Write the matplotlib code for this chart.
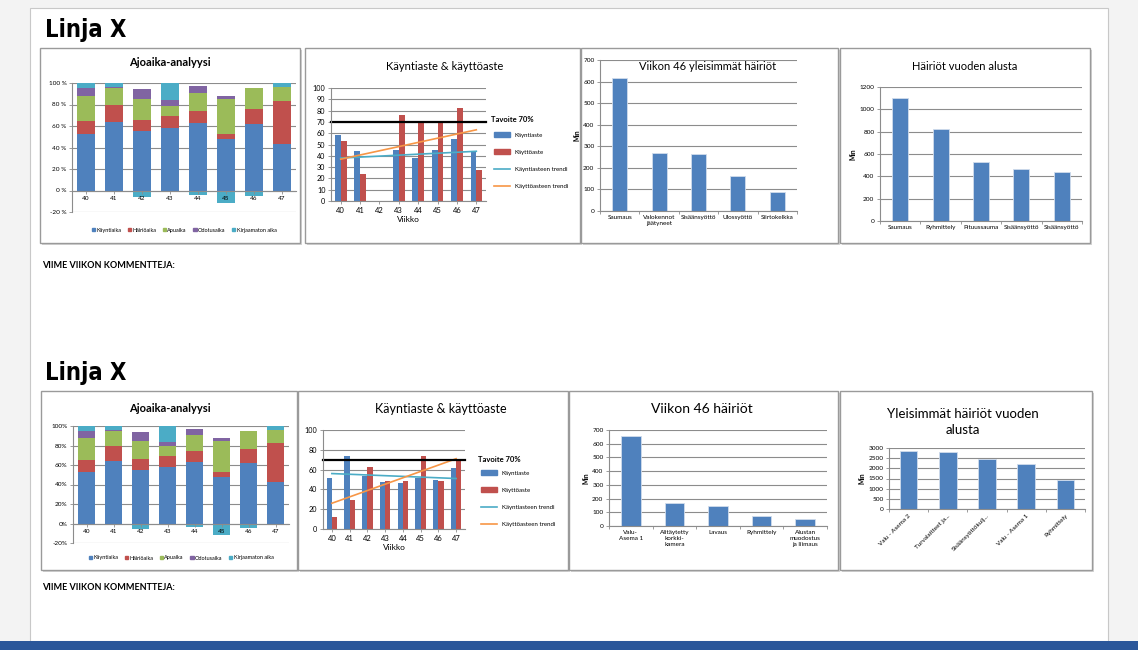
import numpy as np
import matplotlib
matplotlib.use("Agg")
import matplotlib.pyplot as plt
from matplotlib.patches import Rectangle, Patch
from matplotlib.lines import Line2D

plt.rcParams['font.family'] = ['Lato', 'DejaVu Sans']

W, H = 1138, 650

# ---- data ----
weeks = ['40', '41', '42', '43', '44', '45', '46', '47']
ajo_labels = ['Käyntiaika', 'Häiriöaika', 'Apuaika', 'Odotusaika', 'Kirjaamaton aika']
kayntiaika = [53, 64, 55, 58, 63, 48, 62, 43]
hairioaika = [12, 16, 11, 11, 11, 5, 14, 40]
apuaika = [23, 15, 19, 10, 17, 32, 19, 13]
odotusaika = [7, 1, 9, 5, 6, 3, 0, 0]
kirjaamaton = [5, 4, -6, 16, -4, -12, -5, 4]

# Käyntiaste & käyttöaste, top chart
kayntiaste_1 = [58, 44, 0, 45, 38, 45, 55, 43]
kayttoaste_1 = [53, 24, 0, 76, 70, 69, 82, 27]
kaynti_trend_1 = [38, 44]   # start / end
kaytto_trend_1 = [37, 63]
# bottom chart
kayntiaste_2 = [52, 74, 54, 47, 46, 52, 50, 62]
kayttoaste_2 = [12, 29, 63, 48, 48, 74, 48, 71]
kaynti_trend_2 = [56, 51]
kaytto_trend_2 = [26, 71]
tavoite = 70

vk46_cats = ['Saumaus', 'Valokennot\njäätyneet', 'Sisäänsyöttö', 'Ulossyöttö', 'Siirtokelkka']
vk46_vals = [615, 268, 262, 162, 90]

vuosi_cats = ['Saumaus', 'Ryhmittely', 'Pituussauma', 'Sisäänsyöttö', 'Sisäänsyöttö']
vuosi_vals = [1105, 825, 530, 465, 440]

vk46b_cats = ['Valu-\nAsema 1', 'Alitäytetty\nkorkki-\nkamera', 'Lavaus', 'Ryhmittely',
              'Alustan\nmuodostus\nja liimaus']
vk46b_vals = [655, 170, 143, 75, 50]

vuosib_cats = ['Valu - Asema 2', 'Turvalaitteet ja...', 'Sisäänsyöttökulj...',
               'Valu - Asema 1', 'Ryhmittely']
vuosib_vals = [2850, 2780, 2480, 2230, 1450]

BLUE, RED, GREEN, PURPLE, CYAN, ORANGE = '#4f81bd', '#c0504d', '#9bbb59', '#8064a2', '#4bacc6', '#f79646'
GRID = '#8c8c8c'
TICK = 4.6

fig = plt.figure(figsize=(W / 100, H / 100), dpi=100)
fig.patch.set_facecolor('white')


def box(x0, y0, x1, y1):
    return [x0 / W, 1 - y1 / H, (x1 - x0) / W, (y1 - y0) / H]


def frect(x0, y0, x1, y1, **kw):
    r = Rectangle((x0 / W, 1 - y1 / H), (x1 - x0) / W, (y1 - y0) / H,
                  transform=fig.transFigure, **kw)
    fig.add_artist(r)


def ftext(x, y, s, **kw):
    fig.text(x / W, 1 - y / H, s, **kw)


# page background
frect(0, 0, W, H, facecolor='#f3f3f3', edgecolor='none', zorder=-20)
frect(30, 8, 1108, 641, facecolor='white', edgecolor='#c8c8c8', lw=0.8, zorder=-19)
frect(0, 641, W, H, facecolor='#2b579a', edgecolor='none', zorder=5)


def panel(x0, y0, x1, y1):
    frect(x0 + 2, y0 + 2, x1 + 2, y1 + 2, facecolor='#d4d4d4', edgecolor='none', zorder=-6)
    frect(x0, y0, x1, y1, facecolor='white', edgecolor='#9a9a9a', lw=1.0, zorder=-5)


def style(ax, ymin, ymax, step):
    ax.set_facecolor('none')
    ax.set_ylim(ymin, ymax)
    ax.set_yticks(np.arange(ymin, ymax + 1, step))
    ax.yaxis.grid(True, color=GRID, lw=0.8)
    ax.set_axisbelow(True)
    for s in ['top', 'right']:
        ax.spines[s].set_visible(False)
    for s in ['left', 'bottom']:
        ax.spines[s].set_color(GRID)
        ax.spines[s].set_linewidth(0.8)
    ax.tick_params(labelsize=TICK, length=2, width=0.6, color=GRID, pad=2)


def ajoaika(rect, legend_y, pct_fmt):
    ax = fig.add_axes(box(*rect))
    x = np.arange(len(weeks))
    series = [kayntiaika, hairioaika, apuaika, odotusaika]
    cols = [BLUE, RED, GREEN, PURPLE]
    bottom = np.zeros(len(weeks))
    for vals, c, lab in zip(series, cols, ajo_labels):
        ax.bar(x, vals, 0.62, bottom=bottom, color=c, label=lab)
        bottom += np.array(vals)
    kir = np.array(kirjaamaton)
    kbot = np.where(kir >= 0, bottom, 0)
    ax.bar(x, kir, 0.62, bottom=kbot, color=CYAN, label=ajo_labels[4])
    style(ax, -20, 100, 20)
    ax.set_yticklabels([pct_fmt.format(v) for v in range(-20, 101, 20)])
    ax.set_xlim(-0.5, len(weeks) - 0.5)
    ax.spines['bottom'].set_position(('data', 0))
    ax.set_xticks(x)
    ax.set_xticklabels(weeks)
    ax.xaxis.set_zorder(3)
    handles = [Patch(color=c) for c in cols + [CYAN]]
    fig.legend(handles, ajo_labels, loc='center', ncol=5, frameon=False,
               bbox_to_anchor=((rect[0] + rect[2]) / 2 / W, 1 - legend_y / H),
               fontsize=4.0, handlelength=0.6, handleheight=0.6, handletextpad=0.2,
               columnspacing=1.2)
    return ax


def kaynti(rect, blue, red, tb, to, step, label_x, tav_y, leg_y, spacing):
    ax = fig.add_axes(box(*rect))
    x = np.arange(len(weeks))
    ax.bar(x - 0.15, blue, 0.3, color=BLUE)
    ax.bar(x + 0.15, red, 0.3, color=RED)
    ax.plot([0, len(weeks) - 1], tb, color=CYAN, lw=1.2)
    ax.plot([0, len(weeks) - 1], to, color=ORANGE, lw=1.2)
    style(ax, 0, 100, step)
    ax.set_xlim(-0.5, len(weeks) - 0.5)
    ax.set_xticks(x)
    ax.set_xticklabels(weeks, fontsize=5.5)
    ax.tick_params(axis='y', labelsize=5.2)
    ax.set_xlabel('Viikko', fontsize=6, labelpad=2)
    ax.plot([-0.5, len(weeks) - 0.5], [tavoite, tavoite], color='black', lw=1.6, clip_on=False)
    ftext(label_x, tav_y, 'Tavoite 70%', fontsize=5.5, va='center', fontweight='bold')
    handles = [Patch(color=BLUE), Patch(color=RED),
               Line2D([], [], color=CYAN, lw=1.2), Line2D([], [], color=ORANGE, lw=1.2)]
    labels = ['Käyntiaste', 'Käyttöaste', 'Käyntiasteen trendi', 'Käyttöasteen trendi']
    fig.legend(handles, labels, loc='upper left', frameon=False,
               bbox_to_anchor=(label_x / W, 1 - leg_y / H), fontsize=4.4,
               handlelength=2.6, handleheight=0.9, labelspacing=spacing, borderpad=0)
    return ax


def simple_bars(rect, cats, vals, ymax, step, width, rot=0, cat_size=TICK):
    ax = fig.add_axes(box(*rect))
    x = np.arange(len(cats))
    ax.bar(x, vals, width, color=BLUE, edgecolor='#d0dcec', lw=0.6)
    style(ax, 0, ymax, step)
    ax.set_xlim(-0.5, len(cats) - 0.5)
    ax.set_xticks(np.arange(len(cats) + 1) - 0.5, minor=False, labels=[''] * (len(cats) + 1))
    ax.set_xticks(x, minor=True)
    if rot:
        ax.set_xticklabels(cats, minor=True, rotation=rot, ha='right', rotation_mode='anchor',
                           fontsize=cat_size)
    else:
        ax.set_xticklabels(cats, minor=True, fontsize=cat_size)
    ax.tick_params(axis='x', which='minor', length=0, pad=3)
    ax.set_ylabel('Min', fontsize=4.8, fontweight='bold', labelpad=2)
    return ax


# ---------------- top row ----------------
ftext(45, 30, 'Linja X', fontsize=17, fontweight='heavy', fontstretch='condensed',
      family='DejaVu Sans', va='center')
panel(40, 48, 300, 243)
panel(305, 48, 580, 243)
panel(581, 48, 838, 243)
panel(840, 48, 1090, 243)

ftext(170, 63, 'Ajoaika-analyysi', fontsize=8, fontweight='bold', ha='center', va='center')
ajoaika((72, 83, 296, 212), 230, '{} %')

ftext(445, 66, 'Käyntiaste & käyttöaste', fontsize=8, ha='center', va='center')
kaynti((331, 88, 486, 201), kayntiaste_1, kayttoaste_1, kaynti_trend_1, kaytto_trend_1,
       10, 491, 120, 129, 1.9)

simple_bars((600, 60, 797, 211), vk46_cats, vk46_vals, 700, 100, 0.38)
ftext(708, 66, 'Viikon 46 yleisimmät häiriöt', fontsize=8, ha='center', va='center')

ftext(965, 66, 'Häiriöt vuoden alusta', fontsize=8, ha='center', va='center')
simple_bars((880, 87, 1082, 221), vuosi_cats, vuosi_vals, 1200, 200, 0.4)

ftext(42, 265, 'VIIME VIIKON KOMMENTTEJA:', fontsize=6.5, fontweight='bold',
      fontstretch='condensed', va='center')

# ---------------- bottom row ----------------
ftext(45, 373, 'Linja X', fontsize=17, fontweight='heavy', fontstretch='condensed',
      family='DejaVu Sans', va='center')
panel(41, 391, 297, 570)
panel(298, 391, 568, 570)
panel(569, 391, 838, 570)
panel(840, 391, 1092, 570)

ftext(170, 408, 'Ajoaika-analyysi', fontsize=8, fontweight='bold', ha='center', va='center')
ajoaika((73, 426, 289, 543), 558, '{}%')

ftext(441, 409, 'Käyntiaste & käyttöaste', fontsize=9, ha='center', va='center')
kaynti((323, 430, 465, 529), kayntiaste_2, kayttoaste_2, kaynti_trend_2, kaytto_trend_2,
       20, 478, 460, 467, 1.9)

ftext(702, 409, 'Viikon 46 häiriöt', fontsize=10, ha='center', va='center')
simple_bars((609, 430, 827, 526), vk46b_cats, vk46b_vals, 700, 100, 0.45)

ftext(963, 422, 'Yleisimmät häiriöt vuoden\nalusta', fontsize=9.5, ha='center', va='center',
      linespacing=1.3)
simple_bars((889, 448, 1085, 509), vuosib_cats, vuosib_vals, 3000, 500, 0.45, rot=45)

ftext(42, 588, 'VIIME VIIKON KOMMENTTEJA:', fontsize=6.5, fontweight='bold',
      fontstretch='condensed', va='center')

fig.savefig('out.png', dpi=100)
